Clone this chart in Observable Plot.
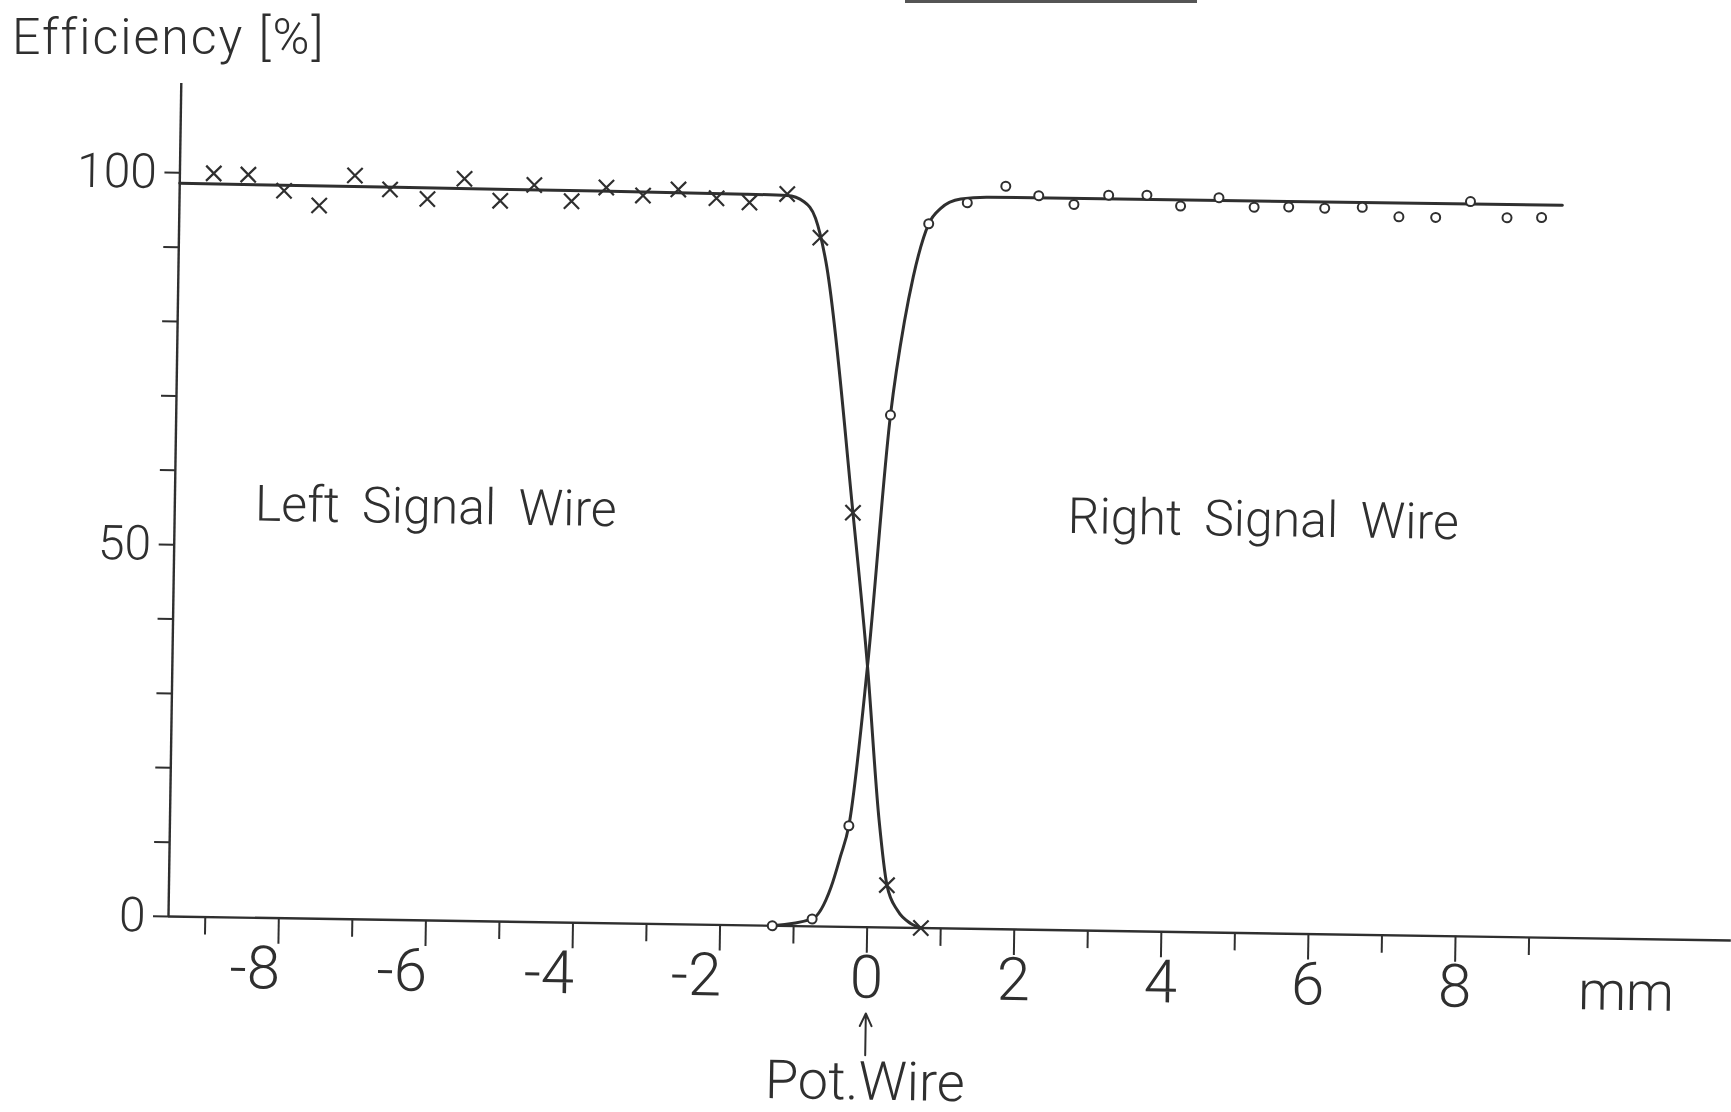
<!DOCTYPE html>
<html><head><meta charset="utf-8">
<script src="https://cdn.jsdelivr.net/npm/d3@7"></script>
<script src="https://cdn.jsdelivr.net/npm/@observablehq/plot@0.6"></script>
<style>
html,body{margin:0;padding:0;background:#fff;width:1731px;height:1112px;overflow:hidden;}
#wrap{position:relative;width:1731px;height:1112px;}
#title{position:absolute;left:12px;top:12px;font-family:Roboto,"Open Sans","DejaVu Sans",sans-serif;font-weight:300;font-size:50px;line-height:50px;color:#2f2f2f;letter-spacing:2px;white-space:pre;}
#chart{position:absolute;left:0;top:0;}
#chart svg{transform:rotate(0.88deg);transform-origin:168px 916px;overflow:visible;}
#scanline{position:absolute;left:905px;top:0;width:292px;height:3px;background:#555;}
</style></head><body>
<div id="wrap"><div id="scanline"></div><div id="title"></div><div id="chart"></div></div>
<script>
// ---- text ----
const titleText = "Efficiency [%]";
const regionLabels = ["Left Signal Wire", "Right Signal Wire"];
const xUnitLabel = "mm";
const potWireLabel = "Pot.Wire";

// ---- axes ----
const xDomain = [-9.5, 11.75];
const yDomain = [0, 112];
const xMajorTicks = [-8, -6, -4, -2, 0, 2, 4, 6, 8];
const xMinorTicks = [-9, -7, -5, -3, -1, 1, 3, 5, 7, 9];
const yTicks = [0, 10, 20, 30, 40, 50, 60, 70, 80, 90, 100];
const yLabelTicks = [0, 50, 100];

// ---- Left signal wire: measured points (x marks) ----
const leftPos = [-9.04, -8.57, -8.08, -7.60, -7.12, -6.64, -6.13, -5.63, -5.14, -4.68, -4.17, -3.70, -3.20, -2.72, -2.20, -1.75, -1.24, -0.78, -0.28, 0.26, 0.73];
const leftEff = [100.0, 99.9, 97.8, 95.9, 100.0, 98.2, 97.0, 99.8, 96.9, 99.1, 97.0, 98.9, 97.9, 98.8, 97.7, 97.2, 98.4, 92.6, 55.7, 5.7, 0.0];

// ---- Right signal wire: measured points (circles) ----
const rightPos = [-1.29, -0.75, -0.27, 0.21, 0.69, 1.21, 1.73, 2.18, 2.66, 3.13, 3.65, 4.11, 4.63, 5.11, 5.58, 6.07, 6.58, 7.08, 7.58, 8.05, 8.55, 9.02];
const rightEff = [0.0, 1.0, 13.6, 68.9, 94.7, 97.6, 99.9, 98.7, 97.6, 98.9, 99.0, 97.6, 98.8, 97.6, 97.7, 97.6, 97.8, 96.6, 96.6, 98.8, 96.7, 96.8];

// ---- drawn fit curves ----
const leftFitPos = [-9.5, -5.0, -1.8, -1.24, -1.01, -0.85, -0.70, -0.28, -0.05, 0.14, 0.26, 0.41, 0.59, 0.75];
const leftFitEff = [98.6, 98.45, 98.3, 98.2, 97.4, 95.2, 89.4, 55.7, 35.1, 14.4, 5.7, 2.3, 0.6, 0.0];
const rightFitPos = [-1.29, -0.75, -0.50, -0.38, -0.27, -0.05, 0.21, 0.38, 0.49, 0.69, 0.85, 1.12, 1.5, 9.30];
const rightFitEff = [0.0, 1.0, 5.3, 9.4, 13.6, 35.1, 68.9, 81.5, 87.5, 94.7, 96.8, 98.1, 98.4, 98.5];

const INK = "#2f2f2f";
const FONT = "Roboto, 'Open Sans', 'DejaVu Sans', sans-serif";

const zip = (xs, ys) => xs.map((x, i) => ({x, y: ys[i]}));
const leftPts = zip(leftPos, leftEff);
const rightPts = zip(rightPos, rightEff);
const leftFit = zip(leftFitPos, leftFitEff);
const rightFit = zip(rightFitPos, rightFitEff);
const negTicks = xMajorTicks.filter(d => d < 0);
const posTicks = xMajorTicks.filter(d => d >= 0);

document.getElementById("title").textContent = titleText;

const chart = Plot.plot({
  width: 1731, height: 1112,
  marginLeft: 168, marginRight: 0, marginTop: 83, marginBottom: 196,
  x: {domain: xDomain},
  y: {domain: yDomain},
  style: {background: "transparent", color: INK, fontFamily: FONT},
  marks: [
    Plot.ruleY([yDomain[0]], {stroke: INK, strokeWidth: 2.4}),
    Plot.ruleX([xDomain[0]], {stroke: INK, strokeWidth: 2.4}),
    Plot.axisY({ticks: yTicks, tickSize: 15, tickFormat: () => "", label: null, stroke: INK, strokeWidth: 2}),
    Plot.axisX({ticks: xMajorTicks, tickSize: 26, tickFormat: () => "", label: null, stroke: INK, strokeWidth: 2}),
    Plot.axisX({ticks: xMinorTicks, tickSize: 18, tickFormat: () => "", label: null, stroke: INK, strokeWidth: 2}),
    Plot.text(yLabelTicks, {y: d => d, frameAnchor: "left", dx: -23, textAnchor: "end", lineAnchor: "middle",
      text: d => String(d), fontSize: 48, fontWeight: 300, letterSpacing: -3, fill: INK}),
    Plot.text(negTicks, {x: d => d, frameAnchor: "bottom", dy: 28, dx: 2, textAnchor: "end", lineAnchor: "top",
      text: d => "-" + Math.abs(d), fontSize: 60, fontWeight: 300, fill: INK}),
    Plot.text(posTicks, {x: d => d, frameAnchor: "bottom", dy: 28, textAnchor: "middle", lineAnchor: "top",
      text: d => String(d), fontSize: 60, fontWeight: 300, fill: INK}),
    Plot.text([xUnitLabel], {x: 10.33, frameAnchor: "bottom", dy: 71, textAnchor: "middle", lineAnchor: "bottom",
      text: d => d, fontSize: 54, fontWeight: 300, letterSpacing: -3, fill: INK}),
    Plot.arrow([potWireLabel], {x1: 0, x2: 0, y1: -17.2, y2: -11.6, stroke: INK, strokeWidth: 2, headLength: 16, headAngle: 50}),
    Plot.text([potWireLabel], {x: 0, frameAnchor: "bottom", dy: 134, textAnchor: "middle", lineAnchor: "top",
      text: d => d, fontSize: 54, fontWeight: 300, letterSpacing: -2.5, fill: INK}),
    Plot.text([regionLabels[0]], {x: -8.41, y: 53.4, textAnchor: "start", lineAnchor: "bottom",
      text: d => d, fontSize: 50, fontWeight: 300, letterSpacing: -1.5, fill: INK}),
    Plot.text([regionLabels[1]], {x: 2.64, y: 53.4, textAnchor: "start", lineAnchor: "bottom",
      text: d => d, fontSize: 50, fontWeight: 300, letterSpacing: -1, fill: INK}),
    Plot.line(leftFit, {x: "x", y: "y", curve: "monotone-x", stroke: INK, strokeWidth: 3}),
    Plot.line(rightFit, {x: "x", y: "y", curve: "monotone-x", stroke: INK, strokeWidth: 3}),
    Plot.dot(leftPts, {x: "x", y: "y", symbol: "times", r: 7, stroke: INK, strokeWidth: 2.2}),
    Plot.dot(rightPts, {x: "x", y: "y", symbol: "circle", r: 4.5, stroke: INK, strokeWidth: 2, fill: "white"})
  ]
});
chart.style.wordSpacing = "10px";
document.getElementById("chart").appendChild(chart);
</script>
</body></html>
